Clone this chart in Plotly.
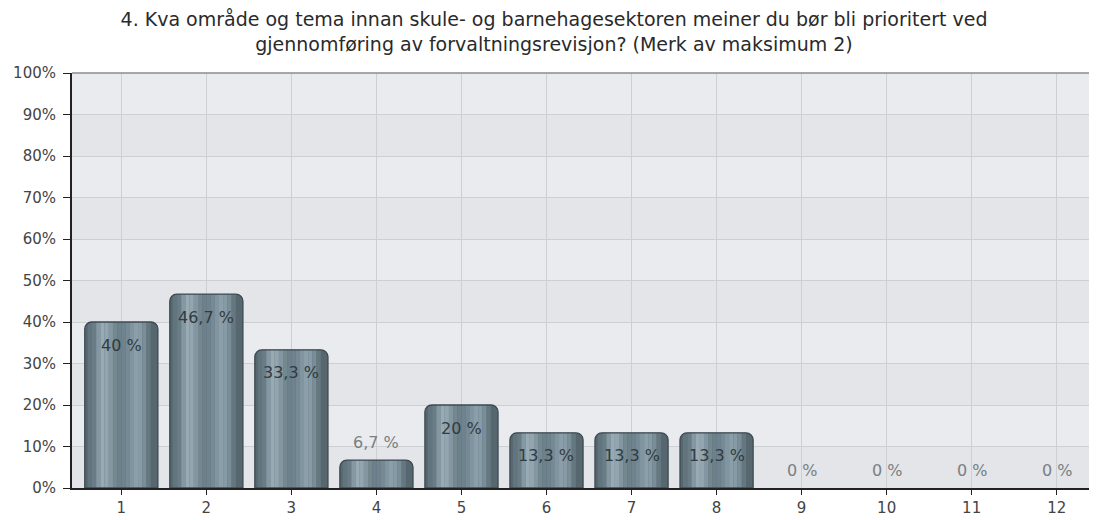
import plotly.graph_objects as go

categories = [1, 2, 3, 4, 5, 6, 7, 8, 9, 10, 11, 12]
values = [40, 46.7, 33.3, 6.7, 20, 13.3, 13.3, 13.3, 0, 0, 0, 0]
value_labels = ["40 %", "46,7 %", "33,3 %", "6,7 %", "20 %", "13,3 %", "13,3 %", "13,3 %",
                "0 %", "0 %", "0 %", "0 %"]
y_ticks = [0, 10, 20, 30, 40, 50, 60, 70, 80, 90, 100]
y_tick_labels = [f"{t}%" for t in y_ticks]
title_text = ("4. Kva område og tema innan skule- og barnehagesektoren meiner du bør bli prioritert ved<br>"
              "gjennomføring av forvaltningsrevisjon? (Merk av maksimum 2)")

FONT = "DejaVu Sans, Verdana, sans-serif"
W, H = 1089, 512  # page body has an 8px margin
fig = go.Figure()

BAR_W = 0.86
EDGE = 0.085
# base rounded bar (edges)
fig.add_trace(go.Bar(
    x=categories, y=values, offset=-BAR_W / 2, width=BAR_W,
    marker=dict(color="#56676f", cornerradius=7, line=dict(width=0)),
    hoverinfo="skip", showlegend=False,
))
# shading profile across the flat part of the cylinder
profile = ["#6a7d87", "#8498a3", "#98abb5", "#93a6b0", "#8396a1", "#74888f", "#6d818c",
           "#6f838e", "#768a95", "#8095a0", "#8a9faa", "#879ba6", "#7a8e99", "#66787f"]
inner_left = -BAR_W / 2 + EDGE
inner_w = BAR_W - 2 * EDGE
sw = inner_w / len(profile)
for i, col in enumerate(profile):
    fig.add_trace(go.Bar(
        x=categories, y=values, offset=inner_left + i * sw, width=sw * 1.02,
        marker=dict(color=col, line=dict(width=0)),
        hoverinfo="skip", showlegend=False,
    ))
# left edge soft shading inside rounded part
fig.add_trace(go.Bar(
    x=categories, y=values, offset=-BAR_W / 2 + 0.035, width=EDGE - 0.035,
    marker=dict(color="#62747d", cornerradius=4, line=dict(width=0)),
    hoverinfo="skip", showlegend=False,
))
# dark outline
fig.add_trace(go.Bar(
    x=categories, y=values, offset=-BAR_W / 2, width=BAR_W,
    marker=dict(color="rgba(0,0,0,0)", cornerradius=7,
                line=dict(width=[1.3 if v > 0 else 0 for v in values], color="#3e4a51")),
    hoverinfo="skip", showlegend=False,
))

# alternating background bands
for lo in range(0, 100, 20):
    fig.add_shape(type="rect", xref="paper", yref="y", x0=0, x1=1, y0=lo, y1=lo + 10,
                  fillcolor="#e3e5e8", line=dict(width=0), layer="below")

annotations = []
for c, v, lab in zip(categories, values, value_labels):
    inside = v >= 10
    annotations.append(dict(
        x=c, y=v, xref="x", yref="y", text=lab, showarrow=False,
        yshift=-23 if inside else 18,
        font=dict(family=FONT, size=16, color="#323b41" if inside else "#7a7f83"),
    ))

fig.add_shape(type="line", xref="paper", yref="paper", x0=0, x1=1, y0=1, y1=1,
              line=dict(color="#8a8d90", width=1.5))

fig.update_layout(
    width=W, height=H,
    margin=dict(l=64, r=0, t=65, b=32),
    paper_bgcolor="white", plot_bgcolor="#e9ebee",
    barmode="overlay",
    title=dict(text=title_text, x=546 / W, xanchor="center", y=1 - 18 / H, yanchor="top",
               font=dict(family=FONT, size=19, color="#2a2a2a")),
    annotations=annotations,
    xaxis=dict(range=[0.42, 12.474], tickvals=categories, ticktext=[str(c) for c in categories],
               showgrid=True, gridcolor="#cdd0d3", gridwidth=1, zeroline=False,
               showline=True, linecolor="#222222", linewidth=2,
               ticks="outside", ticklen=5, tickcolor="#222222", ticklabelstandoff=0,
               tickfont=dict(family=FONT, size=15, color="#444444")),
    yaxis=dict(range=[0, 100], tickvals=y_ticks, ticktext=y_tick_labels,
               showgrid=True, gridcolor="#cdd0d3", gridwidth=1, zeroline=False,
               showline=True, linecolor="#222222", linewidth=2,
               ticks="outside", ticklen=7, tickcolor="#222222", ticklabelstandoff=4,
               tickfont=dict(family=FONT, size=15, color="#444444")),
)

fig.write_html("out.html")
